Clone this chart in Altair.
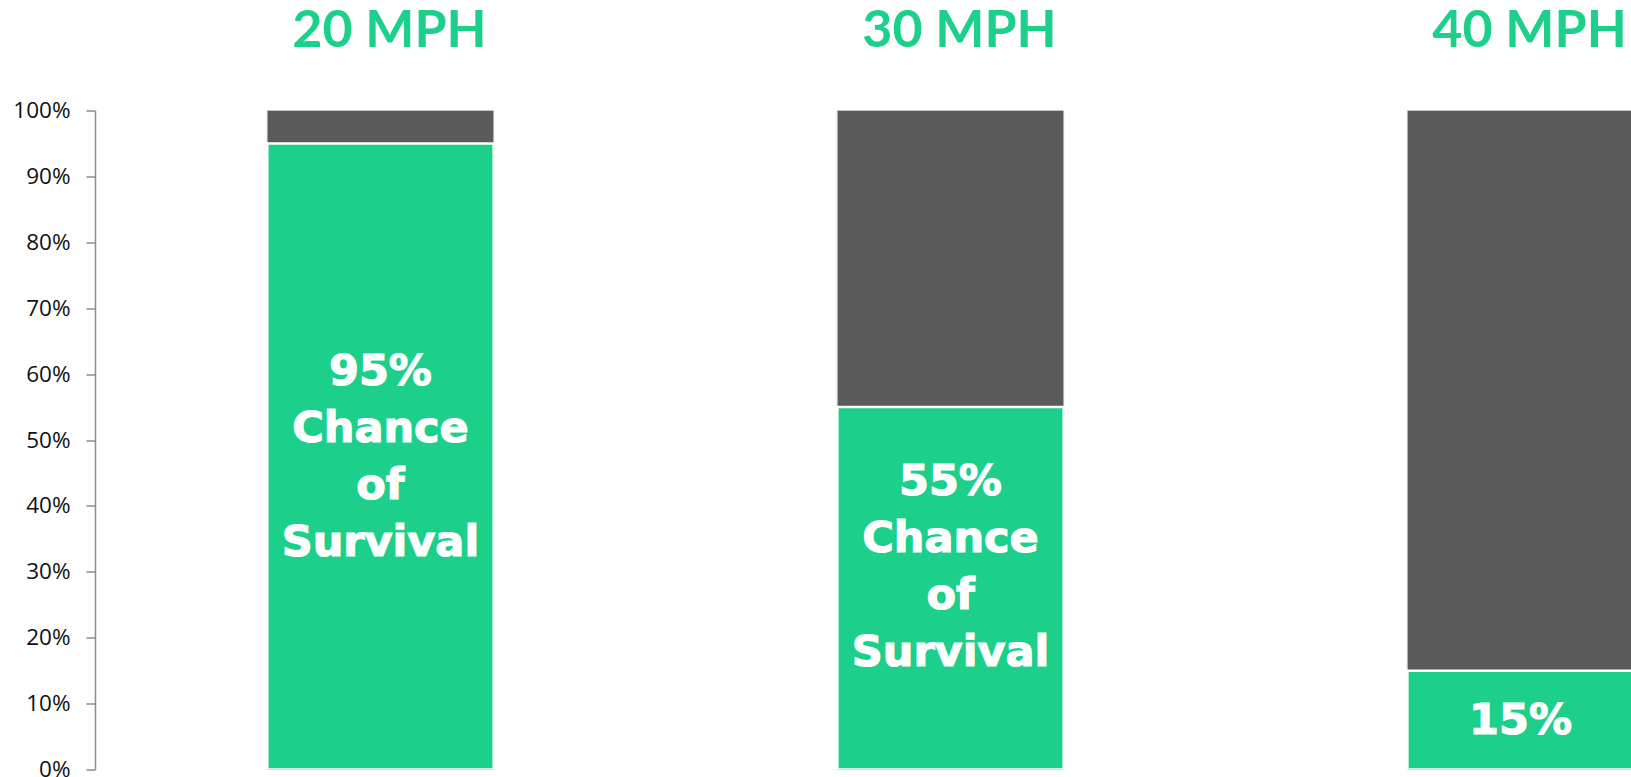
import altair as alt
import pandas as pd

speeds = ["20 MPH", "30 MPH", "40 MPH"]
survival = [95, 55, 15]
totals = [100, 100, 100]
labels = ["95%\nChance\nof\nSurvival", "55%\nChance\nof\nSurvival", "15%"]
label_pos = [60.3, 43.6, 7.4]  # centre of each label's first line, in %
y_ticks = [0, 10, 20, 30, 40, 50, 60, 70, 80, 90, 100]

df = pd.DataFrame({
    "speed": speeds,
    "survival": survival,
    "total": totals,
    "label": labels,
    "label_pos": label_pos,
})

GREEN = "#1ccf8a"
GRAY = "#5a5a5a"

xscale = alt.Scale(domain=speeds, range=[172.3, 1538.7], paddingInner=0.603, paddingOuter=0)
yscale = alt.Scale(domain=[0, 100], nice=False)

x = alt.X("speed:N", scale=xscale, axis=None, sort=speeds)

base = alt.Chart(df)

gray = base.mark_bar(color=GRAY, stroke="#b4b4b4", strokeWidth=1, clip=True).encode(
    x=x,
    y=alt.Y("total:Q", scale=yscale, title=None,
            axis=alt.Axis(values=y_ticks, labelExpr="datum.value + '%'", grid=False,
                          domainColor="#8c8c8c", domainWidth=1.5, tickColor="#8c8c8c",
                          tickWidth=1.5, tickSize=9, labelPadding=16,
                          labelFont="Open Sans", labelFontSize=22.5, labelColor="#111111")),
    y2=alt.datum(0),
)

green = base.mark_bar(color=GREEN, stroke="white", strokeWidth=2.5, clip=True).encode(
    x=x,
    y=alt.Y("survival:Q", scale=yscale),
    y2=alt.datum(0),
)

inner = base.mark_text(color="white", font="DejaVu Sans", fontWeight="bold", fontSize=43,
                       stroke="white", strokeWidth=1.2,
                       lineBreak="\n", lineHeight=57, baseline="middle", align="center").encode(
    x=x,
    y=alt.Y("label_pos:Q", scale=yscale),
    text="label:N",
)

titles = base.mark_text(color=GREEN, font="Lato", fontWeight="bold", fontSize=52,
                        baseline="alphabetic", align="center", dx=9).encode(
    x=x,
    y=alt.value(-63.5),
    text="speed:N",
)

chart = alt.layer(gray, green, inner, titles).properties(
    width=1536,
    height=659,
    autosize=alt.AutoSizeParams(type="none"),
    padding={"left": 95, "top": 110.5, "right": 0, "bottom": 7.5},
).configure_view(stroke=None)

chart.save("out.html", embed_options={"renderer": "svg", "actions": False})
